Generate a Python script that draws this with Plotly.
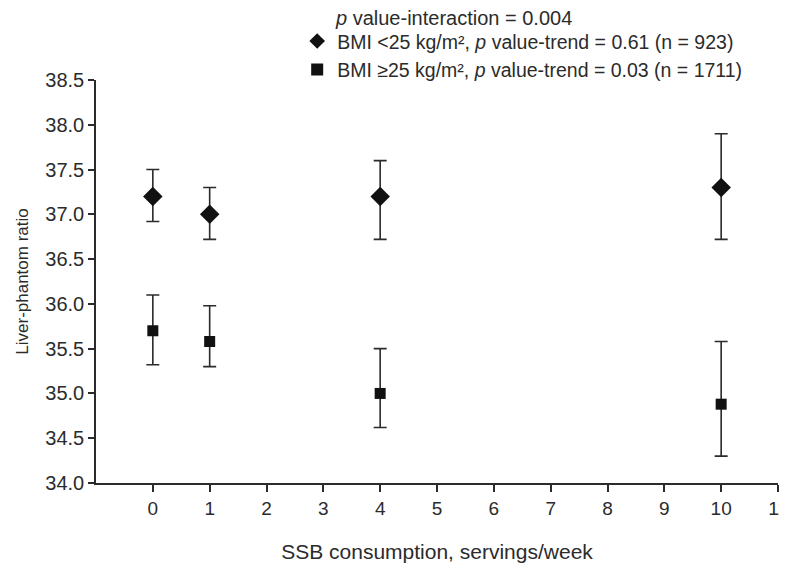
import plotly.graph_objects as go

x_vals = [0, 1, 4, 10]
bmi_lt25 = [37.2, 37.0, 37.2, 37.3]
bmi_lt25_hi = [37.5, 37.3, 37.6, 37.9]
bmi_lt25_lo = [36.92, 36.72, 36.72, 36.72]
bmi_ge25 = [35.7, 35.58, 35.0, 34.88]
bmi_ge25_hi = [36.1, 35.98, 35.5, 35.58]
bmi_ge25_lo = [35.32, 35.3, 34.62, 34.3]

x_ticks = list(range(0, 12))
y_ticks = [34.0 + 0.5 * i for i in range(10)]

ink = "#2b2b2b"
FAM = "Arial, Liberation Sans, sans-serif"

def err(vals, hi, lo):
    return dict(type="data", symmetric=False,
                array=[h - v for h, v in zip(hi, vals)],
                arrayminus=[v - l for v, l in zip(vals, lo)],
                color=ink, thickness=1.6, width=6.5)

fig = go.Figure()
fig.add_trace(go.Scatter(
    x=x_vals, y=bmi_lt25, mode="markers",
    name="BMI <25 kg/m², <i>p</i> value-trend = 0.61 (n = 923)",
    marker=dict(symbol="diamond", size=15, color="#111111"),
    error_y=err(bmi_lt25, bmi_lt25_hi, bmi_lt25_lo)))
fig.add_trace(go.Scatter(
    x=x_vals, y=bmi_ge25, mode="markers",
    name="BMI ≥25 kg/m², <i>p</i> value-trend = 0.03 (n = 1711)",
    marker=dict(symbol="square", size=11, color="#111111"),
    error_y=err(bmi_ge25, bmi_ge25_hi, bmi_ge25_lo)))

# page body has an 8px default margin, so the figure is sized/offset to compensate
fig.update_layout(
    width=779, height=556,
    margin=dict(l=88, r=9, t=72, b=81, autoexpand=False),
    paper_bgcolor="white", plot_bgcolor="white",
    font=dict(family=FAM, size=18, color=ink),
    showlegend=True,
    legend=dict(
        x=0.295, y=0.978, xanchor="left", yanchor="bottom",
        bgcolor="rgba(0,0,0,0)",
        font=dict(family=FAM, size=19.5, color=ink),
        itemsizing="constant", tracegroupgap=0,
    ),
    annotations=[dict(
        text="<i>p</i> value-interaction = 0.004",
        xref="paper", yref="paper", x=0.3475, y=1.154,
        xanchor="left", yanchor="middle", showarrow=False,
        font=dict(family=FAM, size=20, color=ink),
    )],
    xaxis=dict(
        range=[-1, 11], tickmode="array", tickvals=x_ticks,
        ticktext=[str(t) for t in x_ticks],
        showline=True, linecolor=ink, linewidth=1.5,
        ticks="outside", ticklen=7, tickwidth=1.5, tickcolor=ink,
        showgrid=False, zeroline=False, ticklabeloverflow="allow",
        title=dict(text="SSB consumption, servings/week", standoff=27,
                   font=dict(family=FAM, size=21, color=ink)),
        tickfont=dict(family=FAM, size=19, color=ink),
    ),
    yaxis=dict(
        range=[34.0, 38.5], tickmode="array", tickvals=y_ticks,
        ticktext=[f"{t:.1f}" for t in y_ticks],
        showline=True, linecolor=ink, linewidth=1.5,
        ticks="outside", ticklen=6, tickwidth=1.5, tickcolor=ink,
        showgrid=False, zeroline=False,
        title=dict(text="Liver-phantom ratio", standoff=12,
                   font=dict(family=FAM, size=17, color=ink)),
        tickfont=dict(family=FAM, size=20, color=ink),
    ),
)

fig.write_html("out.html")
